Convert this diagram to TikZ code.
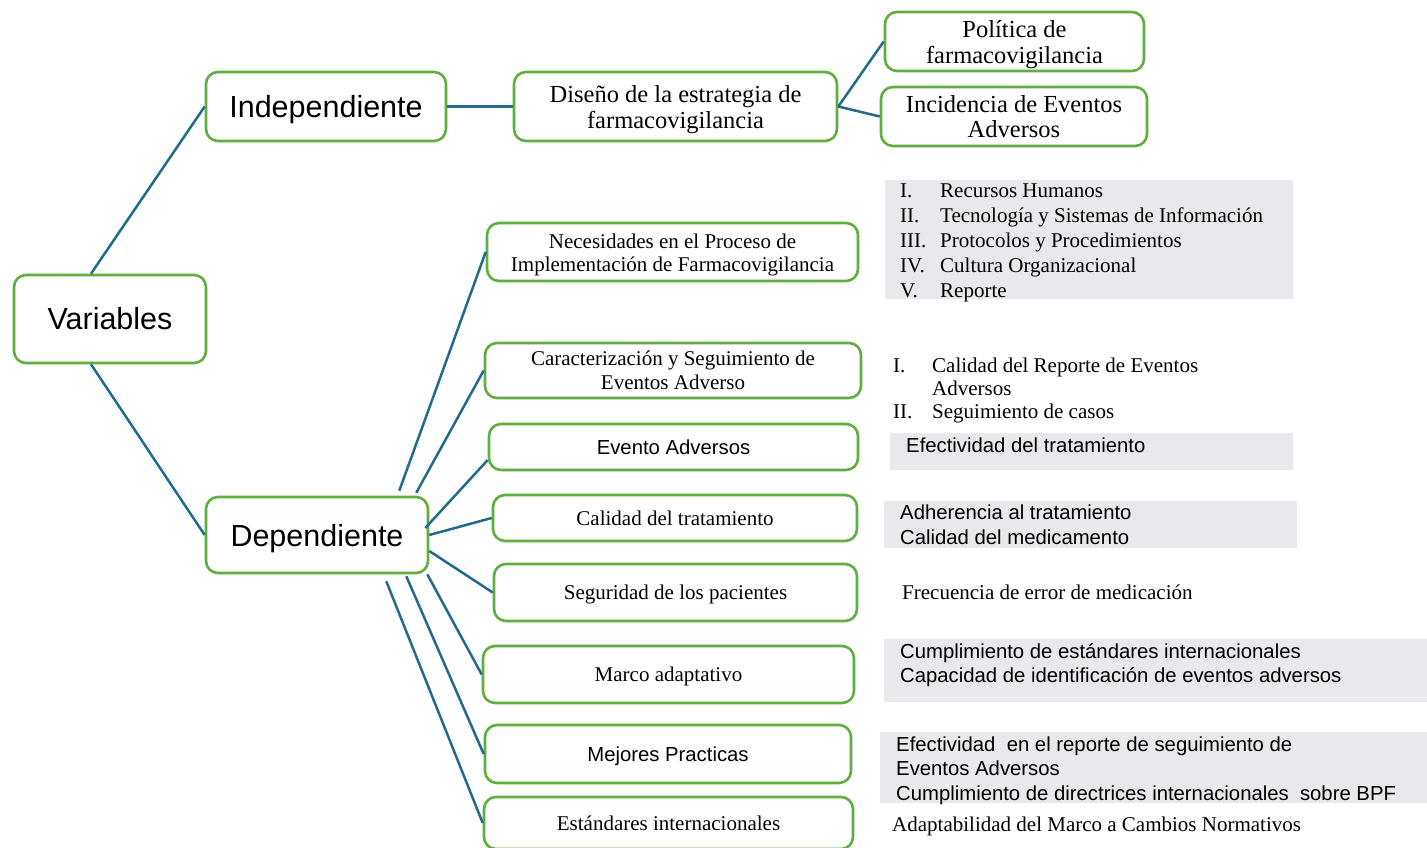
\documentclass[tikz,border=0pt]{standalone}
\usepackage{fontspec}
\setmainfont{Liberation Serif}
\setsansfont{Liberation Sans}
\definecolor{bgreen}{RGB}{96,174,62}
\definecolor{lblue}{RGB}{36,106,140}
\definecolor{gfill}{RGB}{231,233,236}
\begin{document}
\begin{tikzpicture}[x=1pt,y=-1pt,
  box/.style={draw=bgreen, line width=2.6pt, rounded corners=12pt, fill=white, align=center, inner sep=0pt},
  flat/.style={text depth=0pt},
  link/.style={draw=lblue, line width=2.5pt},
  big/.style={font=\sffamily\fontsize{30.5}{36}\selectfont},
  ser/.style={font=\fontsize{21}{23.5}\selectfont},
  serl/.style={font=\fontsize{24.5}{25.5}\selectfont},
  san/.style={font=\sffamily\fontsize{20.3}{24.5}\selectfont},
  greybox/.style={fill=gfill, draw=none},
  txt/.style={anchor=west, align=left, inner sep=0pt}]

\clip (0,0) rectangle (1427,848);
\fill[white] (0,0) rectangle (1427,848);

% grey backgrounds
\fill[greybox] (885,180) rectangle (1293,299);
\fill[greybox] (890,433) rectangle (1293,470);
\fill[greybox] (884,501) rectangle (1297,548);
\fill[greybox] (884,639) rectangle (1427,702);
\fill[greybox] (880,732) rectangle (1427,803);

% main boxes
\node[box, big, minimum width=192pt, minimum height=88pt] (var) at (110,319) {Variables};
\node[box, big, flat, minimum width=240pt, minimum height=69pt] (ind) at (326,106.5) {Independiente};
\node[box, big, flat, minimum width=222pt, minimum height=76pt] (dep) at (317,535) {Dependiente};

\node[box, serl, minimum width=323pt, minimum height=69pt] (dis) at (675.5,106.5) {\rule{0pt}{23pt}Diseño de la estrategia de\\farmacovigilancia};
\node[box, serl, minimum width=259pt, minimum height=59pt] (pol) at (1014.5,41.5) {\rule{0pt}{23pt}Política de\\farmacovigilancia};
\node[box, serl, minimum width=266pt, minimum height=59pt] (inc) at (1014,116.5) {Incidencia de Eventos\\Adversos};

\node[box, ser, minimum width=371pt, minimum height=58pt] (nec) at (672.5,252) {\rule{0pt}{20.5pt}Necesidades en el Proceso de\\Implementación de Farmacovigilancia};
\node[box, ser, minimum width=376pt, minimum height=55pt] (car) at (673,370.5) {Caracterización y Seguimiento de\\Eventos Adverso};
\node[box, san, minimum width=369pt, minimum height=46pt] (eva) at (673.5,447) {Evento Adversos};
\node[box, ser, minimum width=364pt, minimum height=46pt] (cal) at (675,518) {Calidad del tratamiento};
\node[box, ser, flat, minimum width=363pt, minimum height=57pt] (seg) at (675.5,592.5) {Seguridad de los pacientes};
\node[box, ser, flat, minimum width=371pt, minimum height=57pt] (mar) at (668.5,674.5) {Marco adaptativo};
\node[box, san, flat, minimum width=366pt, minimum height=58pt] (mej) at (668,754) {Mejores Practicas};
\node[box, ser, minimum width=369pt, minimum height=52pt] (est) at (668.5,823) {Estándares internacionales};

% connectors
\draw[link] ([xshift=-19pt]var.north) -- (ind.west);
\draw[link] ([xshift=-19pt]var.south) -- (dep.west);
\draw[link] (ind.east) -- (dis.west);
\draw[link] (dis.east) -- (pol.west);
\draw[link] (dis.east) -- (inc.west);
\draw[link] ([xshift=-30pt,yshift=5pt]dep.north east) -- (nec.west);
\draw[link] ([xshift=-13pt,yshift=3pt]dep.north east) -- (car.west);
\draw[link] ([xshift=-4pt,yshift=7pt]dep.east) -- ([yshift=-13pt]eva.west);
\draw[link] (dep.east) -- (cal.west);
\draw[link] ([yshift=-16pt]dep.east) -- (seg.west);
\draw[link] ([xshift=-2pt]dep.south east) -- (mar.west);
\draw[link] ([xshift=-23pt,yshift=-2pt]dep.south east) -- (mej.west);
\draw[link] ([xshift=-43pt,yshift=-7pt]dep.south east) -- (est.west);

% indicator texts
\node[txt, font=\fontsize{21}{25}\selectfont] (l1) at (900,243) {\makebox[40pt][l]{I.}Recursos Humanos\\
\makebox[40pt][l]{II.}Tecnología y Sistemas de Información\\
\makebox[40pt][l]{III.}Protocolos y Procedimientos\\
\makebox[40pt][l]{IV.}Cultura Organizacional\\
\makebox[40pt][l]{V.}Reporte};
\node[txt, font=\fontsize{21}{23}\selectfont] (l2) at (893,390) {\makebox[39pt][l]{I.}Calidad del Reporte de Eventos\\
\hspace*{39pt}Adversos\\
\makebox[39pt][l]{II.}Seguimiento de casos};
\node[txt, san] (t3) at (906,445) {Efectividad del tratamiento};
\node[txt, san] (t4) at (900,524.5) {Adherencia al tratamiento\\Calidad del medicamento};
\node[txt, ser] (t5) at (902,592) {Frecuencia de error de medicación};
\node[txt, san] (t6) at (900,665) {Cumplimiento de estándares internacionales\\Capacidad de identificación de eventos adversos};
\node[txt, san] (t7) at (896,770.5) {Efectividad\ \ en el reporte de seguimiento de\\Eventos Adversos\\Cumplimiento de directrices internacionales\ \ sobre BPF};
\node[txt, ser] (t8) at (892,826) {Adaptabilidad del Marco a Cambios Normativos};
\end{tikzpicture}
\end{document}
